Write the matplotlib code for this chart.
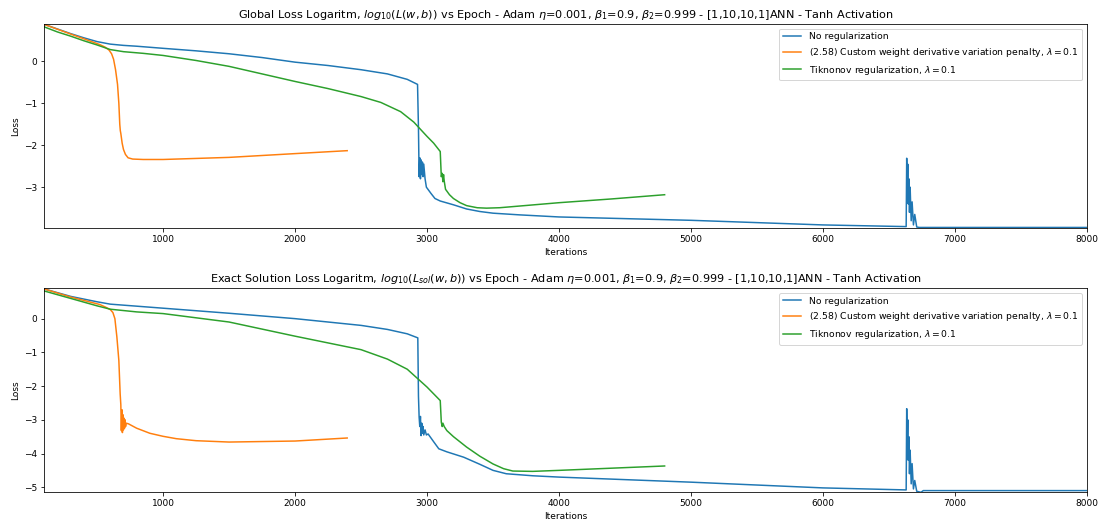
import numpy as np
import matplotlib
matplotlib.use('Agg')
import matplotlib.pyplot as plt

plt.rc('font', size=9)

# --- values ---
# top panel: global loss (log10)
g_none_x = [100, 200, 300, 400, 500, 600, 700, 800, 1000, 1250, 1500, 1750, 2000, 2250, 2500,
            2700, 2850, 2928, 2935, 2940, 2945, 2950, 2955, 2960, 2965, 2970, 2975, 2985, 2995,
            3030, 3060, 3100, 3200, 3300, 3400, 3500, 3700, 4000, 5000, 6000, 6630, 6634, 6638,
            6642, 6646, 6650, 6655, 6660, 6668, 6675, 6685, 6695, 6710, 6730, 7000, 8000]
g_none_y = [0.88, 0.77, 0.66, 0.56, 0.47, 0.41, 0.38, 0.36, 0.31, 0.25, 0.18, 0.09, -0.02,
            -0.1, -0.2, -0.3, -0.43, -0.55, -1.6, -2.75, -2.3, -2.8, -2.35, -2.7, -2.4, -2.75,
            -2.45, -2.8, -3.0, -3.15, -3.27, -3.33, -3.42, -3.52, -3.58, -3.62, -3.66, -3.71,
            -3.79, -3.9, -3.94, -2.31, -3.2, -2.45, -3.4, -2.8, -3.6, -3.0, -3.8, -3.35, -3.9,
            -3.65, -3.95, -3.96, -3.96, -3.96]

g_cust_x = [100, 300, 450, 520, 560, 590, 610, 625, 640, 655, 665, 672, 676, 680, 690, 700,
            715, 735, 770, 850, 1000, 1500, 2000, 2395]
g_cust_y = [0.88, 0.65, 0.48, 0.4, 0.34, 0.27, 0.18, 0.05, -0.2, -0.55, -1.0, -1.5, -1.65,
            -1.72, -1.95, -2.1, -2.22, -2.3, -2.33, -2.34, -2.34, -2.29, -2.2, -2.13]

g_tik_x = [100, 200, 300, 400, 500, 600, 700, 850, 1000, 1250, 1500, 1750, 2000, 2250, 2500,
           2650, 2800, 2900, 3000, 3050, 3100, 3108, 3115, 3120, 3125, 3130, 3140, 3170, 3200,
           3250, 3300, 3380, 3450, 3550, 3700, 4000, 4400, 4800]
g_tik_y = [0.82, 0.7, 0.6, 0.49, 0.39, 0.28, 0.23, 0.19, 0.14, 0.02, -0.12, -0.3, -0.48,
           -0.65, -0.84, -0.98, -1.2, -1.45, -1.79, -1.95, -2.15, -2.75, -2.67, -2.87, -2.7,
           -2.85, -3.05, -3.18, -3.27, -3.37, -3.44, -3.49, -3.5, -3.49, -3.45, -3.37, -3.28,
           -3.18]

# bottom panel: exact solution loss (log10)
s_none_x = [100, 300, 500, 600, 800, 1000, 1500, 2000, 2500, 2700, 2850, 2930, 2935, 2940,
            2945, 2950, 2955, 2960, 2965, 2970, 2975, 2985, 2995, 3008, 3050, 3089, 3150, 3278,
            3400, 3500, 3600, 3800, 4003, 5000, 6000, 6630, 6634, 6638, 6642, 6646, 6650, 6655,
            6660, 6668, 6675, 6685, 6695, 6710, 6742, 6760, 7000, 8000]
s_none_y = [0.88, 0.66, 0.5, 0.43, 0.37, 0.31, 0.16, 0.0, -0.2, -0.32, -0.45, -0.57, -2.3,
            -2.92, -3.2, -2.9, -3.47, -3.1, -3.4, -3.2, -3.45, -3.3, -3.45, -3.42, -3.65, -3.86,
            -3.95, -4.11, -4.32, -4.5, -4.6, -4.66, -4.7, -4.85, -5.02, -5.08, -2.67, -3.8, -3.0,
            -4.2, -3.5, -4.6, -3.9, -4.9, -4.3, -5.05, -4.8, -5.12, -5.15, -5.1, -5.1, -5.1]

s_cust_x = [100, 300, 520, 560, 600, 620, 635, 650, 665, 675, 680, 684, 688, 692, 696, 700,
            704, 708, 712, 716, 720, 738, 800, 900, 1000, 1100, 1250, 1500, 2000, 2395]
s_cust_y = [0.88, 0.64, 0.42, 0.35, 0.27, 0.18, 0.0, -0.54, -1.24, -2.23, -2.55, -3.32, -2.7,
            -3.38, -2.85, -3.3, -2.95, -3.25, -3.0, -3.2, -3.1, -3.12, -3.25, -3.4, -3.49,
            -3.56, -3.62, -3.66, -3.63, -3.54]

s_tik_x = [100, 300, 500, 600, 800, 1000, 1500, 2000, 2500, 2700, 2850, 3000, 3100, 3108,
           3115, 3120, 3130, 3150, 3200, 3300, 3400, 3500, 3580, 3650, 3800, 4000, 4800]
s_tik_y = [0.82, 0.6, 0.38, 0.28, 0.2, 0.15, -0.1, -0.52, -0.92, -1.2, -1.5, -2.03, -2.43,
           -3.07, -3.2, -3.1, -3.2, -3.32, -3.5, -3.81, -4.08, -4.31, -4.45, -4.52, -4.53,
           -4.5, -4.37]

labels = ['No regularization',
          r'(2.58) Custom weight derivative variation penalty, $\lambda=0.1$',
          r'Tiknonov regularization, $\lambda=0.1$']

opt = r'Adam $\eta$=0.001, $\beta_1$=0.9, $\beta_2$=0.999 - [1,10,10,1]ANN - Tanh Activation'
titles = [r'Global Loss Logaritm, $log_{10}(L(w,b))$ vs Epoch - ' + opt,
          r'Exact Solution Loss Logaritm, $log_{10}(L_{sol}(w,b))$ vs Epoch - ' + opt]

panels = [
    [(g_none_x, g_none_y), (g_cust_x, g_cust_y), (g_tik_x, g_tik_y)],
    [(s_none_x, s_none_y), (s_cust_x, s_cust_y), (s_tik_x, s_tik_y)],
]
ylims = [(-3.98, 0.89), (-5.15, 0.9)]

fig = plt.figure(figsize=(1104 / 72, 526 / 72), dpi=72)
axes = [fig.add_axes([0.0401, 0.566, 0.9445, 0.3884]),
        fig.add_axes([0.0401, 0.0641, 0.9445, 0.3878])]

for ax, series, title, yl in zip(axes, panels, titles, ylims):
    for (x, y), lab in zip(series, labels):
        ax.plot(x, y, label=lab)
    ax.set_title(title, fontsize=11.2)
    ax.set_xlabel('Iterations')
    ax.set_ylabel('Loss')
    ax.set_xlim(100, 8000)
    ax.set_ylim(*yl)
    ax.legend(loc='upper right', fontsize=9.3)

fig.savefig('out.png', dpi=72)
